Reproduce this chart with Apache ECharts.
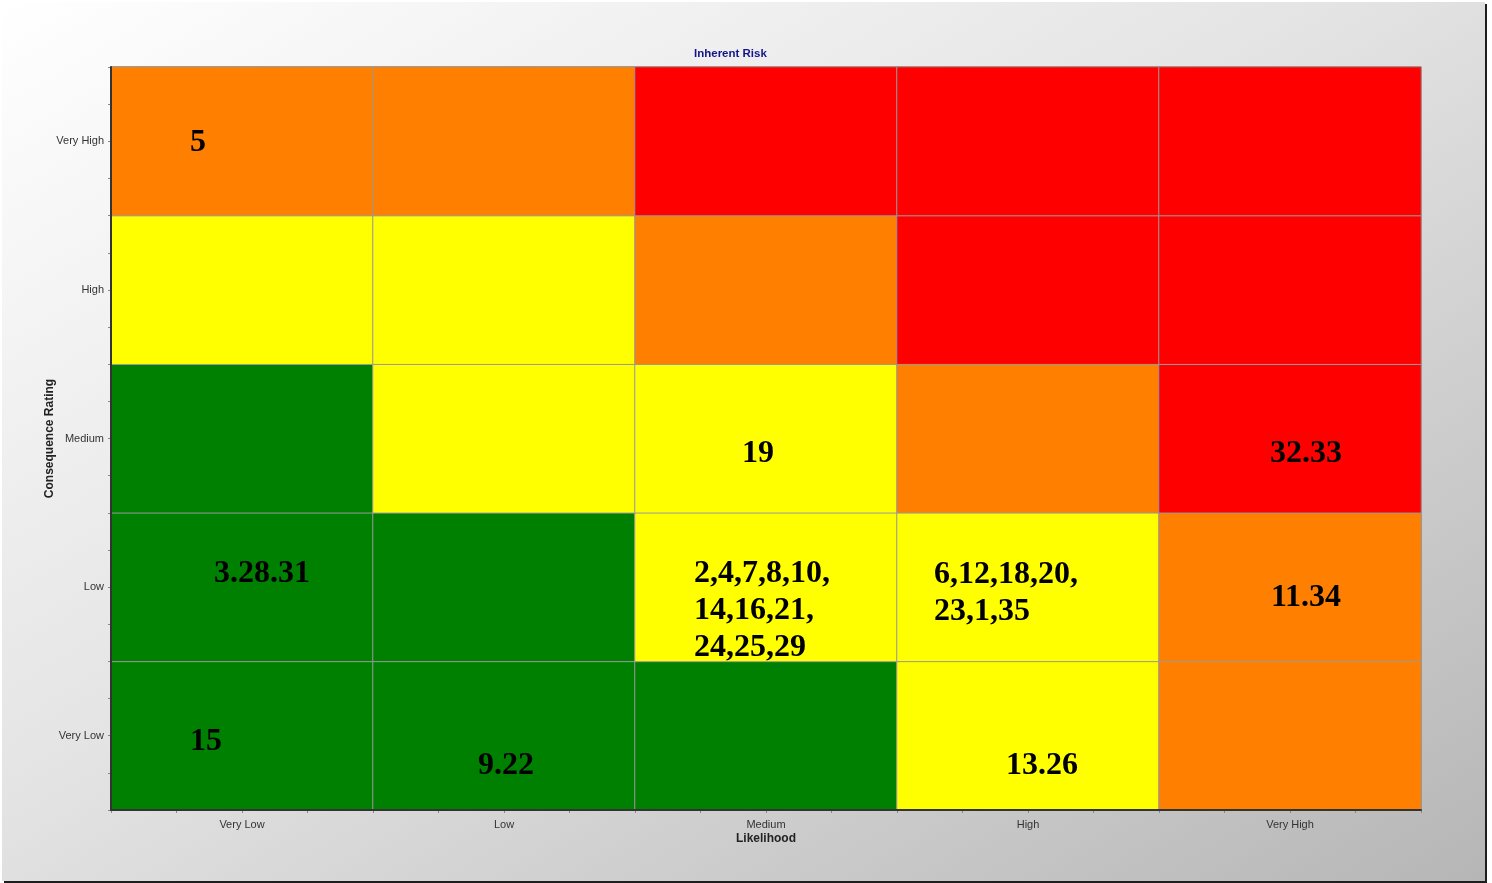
<!DOCTYPE html>
<html>
<head>
<meta charset="utf-8">
<title>Inherent Risk</title>
<script src="https://cdn.jsdelivr.net/npm/echarts@6/dist/echarts.min.js"></script>
<style>
  html, body { margin: 0; padding: 0; background: #fff; }
  #chart {
    position: absolute;
    left: 2px;
    top: 2px;
    width: 1483px;
    height: 879px;
    background: linear-gradient(to bottom right, #ffffff 0%, #e4e4e4 45%, #b6b6b6 100%);
    box-shadow: 2px 2px 0 #1e1e1e;
  }
</style>
</head>
<body>
<div id="chart"></div>
<script>
// categories
const likelihood = ['Very Low', 'Low', 'Medium', 'High', 'Very High']
const consequence = ['Very Low', 'Low', 'Medium', 'High', 'Very High']

// risk level per cell, rows from Very Low consequence up to Very High
// 1 = low (green), 2 = moderate (yellow), 3 = high (orange), 4 = extreme (red)
const riskRows = [
  [1, 1, 1, 2, 3],
  [1, 1, 2, 2, 3],
  [1, 2, 2, 3, 4],
  [2, 2, 3, 4, 4],
  [3, 3, 4, 4, 4],
]

// risk ids written into the cells, same row order
const cellText = [
  ['15', '9.22', '', '13.26', ''],
  ['3.28.31', '', '2,4,7,8,10,\n14,16,21,\n24,25,29', '6,12,18,20,\n23,1,35', '11.34'],
  ['', '', '19', '', '32.33'],
  ['', '', '', '', ''],
  ['5', '', '', '', ''],
]

const levelColors = ['#008000', '#ffff00', '#ff8000', '#ff0000']

// where each cell's text sits relative to the cell centre
const textPlace = {
  '0,0': { offset: [-36, 6] },
  '1,0': { offset: [2, 30] },
  '3,0': { offset: [14, 30] },
  '0,1': { offset: [20, -13] },
  '2,1': { offset: [-72, 24], align: 'left' },
  '3,1': { offset: [-94, 6], align: 'left' },
  '4,1': { offset: [16, 11] },
  '2,2': { offset: [-8, 15] },
  '4,2': { offset: [16, 15] },
  '0,4': { offset: [-44, 1] },
}

const cells = []
riskRows.forEach((row, y) => {
  row.forEach((level, x) => {
    const text = cellText[y][x]
    const item = { value: [x, y, level] }
    if (text) {
      const place = textPlace[x + ',' + y] || { offset: [0, 0] }
      item.label = {
        show: true,
        formatter: text,
        offset: place.offset,
        align: place.align || 'center',
      }
    }
    cells.push(item)
  })
})

const chart = echarts.init(document.getElementById('chart'), null, { renderer: 'canvas' })

const labelFont = { fontFamily: 'Liberation Sans, Arial, sans-serif', fontSize: 11, color: '#333' }

chart.setOption({
  backgroundColor: 'transparent',
  animation: false,
  title: {
    text: 'Inherent Risk',
    left: 687,
    top: 41,
    textStyle: { fontFamily: 'Liberation Sans, Arial, sans-serif', fontSize: 11.5, fontWeight: 'bold', color: '#14148a' },
  },
  grid: {
    left: 109, top: 65, width: 1310, height: 743,
    show: true, borderColor: '#666', borderWidth: 1, backgroundColor: 'transparent',
  },
  visualMap: {
    show: false,
    type: 'piecewise',
    dimension: 2,
    pieces: levelColors.map((c, i) => ({ value: i + 1, color: c })),
  },
  xAxis: [
    {
      type: 'category',
      data: likelihood,
      name: 'Likelihood',
      nameLocation: 'middle',
      nameGap: 23,
      nameMoveOverlap: false,
      nameTextStyle: { fontFamily: 'Liberation Sans, Arial, sans-serif', fontSize: 12, fontWeight: 'bold', color: '#222' },
      axisLine: { lineStyle: { color: '#333', width: 2 } },
      axisTick: { alignWithLabel: true, length: 5, lineStyle: { color: '#777' } },
      axisLabel: { ...labelFont, margin: 9 },
      splitLine: { show: false },
      z: 5,
    },
    {
      type: 'value',
      min: 0, max: 20, interval: 1,
      position: 'bottom',
      axisLine: { show: false },
      axisTick: { length: 3, lineStyle: { color: '#888' } },
      axisLabel: { show: false },
      splitLine: { show: false },
    },
  ],
  yAxis: [
    {
      type: 'category',
      data: consequence,
      name: 'Consequence Rating',
      nameLocation: 'middle',
      nameGap: 55,
      nameRotate: 90,
      nameMoveOverlap: false,
      nameTextStyle: { fontFamily: 'Liberation Sans, Arial, sans-serif', fontSize: 12, fontWeight: 'bold', color: '#222' },
      axisLine: { lineStyle: { color: '#333', width: 2 } },
      axisTick: { alignWithLabel: true, length: 5, lineStyle: { color: '#777' } },
      axisLabel: { ...labelFont, margin: 7 },
      splitLine: { show: false },
      z: 5,
    },
    {
      type: 'value',
      min: 0, max: 20, interval: 1,
      position: 'left',
      axisLine: { show: false },
      axisTick: { length: 3, lineStyle: { color: '#888' } },
      axisLabel: { show: false },
      splitLine: { show: false },
    },
  ],
  series: [{
    type: 'heatmap',
    data: cells,
    itemStyle: { borderColor: '#999', borderWidth: 1 },
    label: {
      show: false,
      fontFamily: 'Liberation Serif, Times New Roman, serif',
      fontWeight: 'bold',
      fontSize: 32,
      lineHeight: 37,
      color: '#000',
    },
    emphasis: { disabled: true },
  }],
})
</script>
</body>
</html>
